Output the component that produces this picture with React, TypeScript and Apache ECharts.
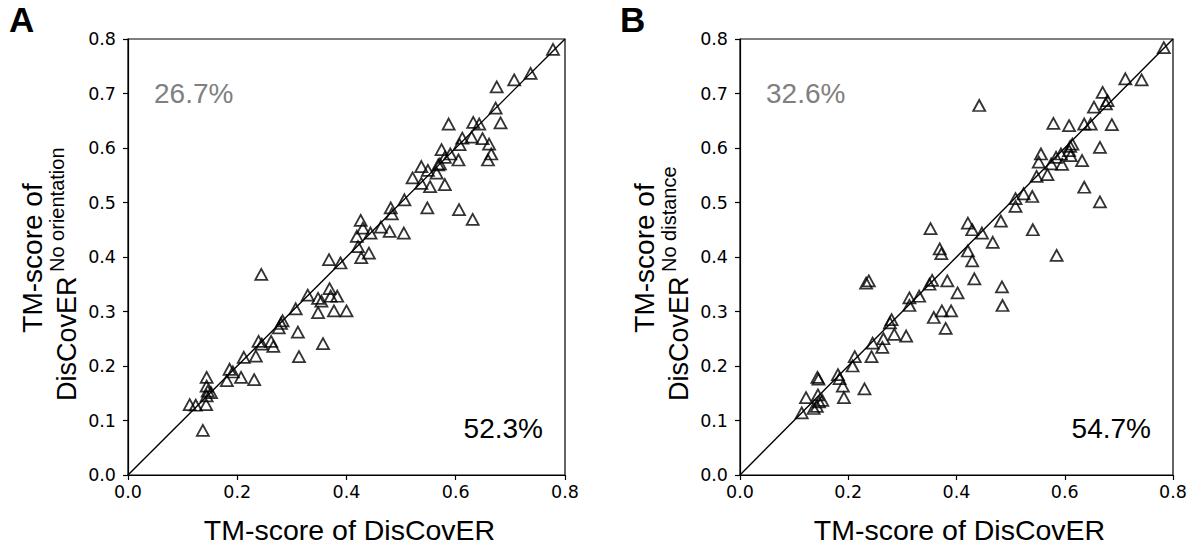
import React, { useEffect, useRef } from "react";
import * as echarts from "echarts";

// Panel A: DisCovER vs DisCovER (no orientation)
const aX = [
  0.244, 0.329, 0.348, 0.369, 0.371, 0.383, 0.354, 0.348, 0.377, 0.4, 0.307, 0.283, 0.28, 0.276, 0.311,
  0.357, 0.313, 0.239, 0.245, 0.262, 0.266, 0.234, 0.212, 0.186, 0.192, 0.181, 0.207, 0.231, 0.144, 0.144,
  0.146, 0.152, 0.144, 0.113, 0.124, 0.143, 0.137, 0.389, 0.368,
  0.537, 0.549, 0.565, 0.521, 0.537, 0.553, 0.58, 0.571, 0.506, 0.481, 0.483, 0.548, 0.606, 0.631, 0.426,
  0.43, 0.444, 0.463, 0.479, 0.505, 0.419, 0.421, 0.427, 0.441,
  0.778, 0.737, 0.707, 0.675, 0.673, 0.632, 0.643, 0.682, 0.587, 0.629, 0.612, 0.607, 0.649, 0.661, 0.665,
  0.659, 0.59, 0.605, 0.574, 0.58, 0.568,
];
const aY = [
  0.368, 0.33, 0.324, 0.342, 0.328, 0.328, 0.319, 0.298, 0.301, 0.301, 0.305, 0.283, 0.278, 0.27, 0.262,
  0.241, 0.217, 0.245, 0.24, 0.245, 0.236, 0.218, 0.216, 0.194, 0.189, 0.173, 0.179, 0.175, 0.179, 0.163,
  0.154, 0.151, 0.145, 0.129, 0.128, 0.129, 0.082, 0.389, 0.395,
  0.566, 0.559, 0.554, 0.545, 0.535, 0.529, 0.533, 0.571, 0.505, 0.49, 0.479, 0.49, 0.487, 0.469, 0.467,
  0.453, 0.444, 0.455, 0.447, 0.444, 0.438, 0.419, 0.399, 0.407,
  0.781, 0.737, 0.725, 0.712, 0.673, 0.647, 0.644, 0.646, 0.644, 0.62, 0.618, 0.606, 0.617, 0.607, 0.589,
  0.578, 0.589, 0.578, 0.597, 0.583, 0.569,
];

// Panel B: DisCovER vs DisCovER (no distance)
const bX = [
  0.233, 0.238, 0.355, 0.35, 0.383, 0.402, 0.313, 0.331, 0.313, 0.358, 0.373, 0.39, 0.38, 0.28, 0.277,
  0.285, 0.307, 0.265, 0.245, 0.263, 0.243, 0.212, 0.208, 0.181, 0.184, 0.19, 0.192, 0.23, 0.122, 0.144,
  0.143, 0.145, 0.146, 0.152, 0.136, 0.114, 0.142,
  0.552, 0.575, 0.595, 0.548, 0.568, 0.636, 0.665, 0.509, 0.509, 0.524, 0.54, 0.482, 0.421, 0.429, 0.447,
  0.467, 0.541, 0.585, 0.421, 0.429, 0.369, 0.372, 0.433, 0.484, 0.485,
  0.783, 0.712, 0.742, 0.67, 0.679, 0.676, 0.654, 0.579, 0.608, 0.636, 0.648, 0.687, 0.614, 0.61, 0.608,
  0.611, 0.665, 0.593, 0.584, 0.632, 0.556,
  0.442, 0.352,
];
const bY = [
  0.352, 0.356, 0.357, 0.35, 0.356, 0.334, 0.325, 0.328, 0.311, 0.289, 0.301, 0.301, 0.269, 0.285, 0.279,
  0.258, 0.255, 0.25, 0.242, 0.234, 0.217, 0.217, 0.2, 0.184, 0.177, 0.163, 0.142, 0.158, 0.142, 0.147,
  0.179, 0.176, 0.134, 0.137, 0.122, 0.114, 0.126,
  0.574, 0.571, 0.57, 0.548, 0.551, 0.528, 0.501, 0.507, 0.493, 0.516, 0.511, 0.466, 0.462, 0.45, 0.444,
  0.427, 0.45, 0.403, 0.411, 0.393, 0.415, 0.406, 0.36, 0.345, 0.311,
  0.784, 0.727, 0.725, 0.702, 0.687, 0.681, 0.675, 0.645, 0.641, 0.644, 0.644, 0.643, 0.607, 0.603, 0.595,
  0.586, 0.601, 0.589, 0.583, 0.577, 0.589,
  0.678, 0.452,
];

const diagonal = [0, 0.8];
const panelLetters = ["A", "B"];
const xTitle = "TM-score of DisCovER";
const yTitleTop = "TM-score of";
const yTitleBase = "DisCovER";
const yTitleSup = ["No orientation", "No distance"];
const pctUpper = ["26.7%", "32.6%"];
const pctLower = ["52.3%", "54.7%"];

const SANS = "'Liberation Sans', Arial, Helvetica, sans-serif";
const TICKFONT = "'DejaVu Sans', sans-serif";

function zip(xs: number[], ys: number[]) {
  return xs.map((x, i) => [x, ys[i]]);
}

export default function App() {
  const ref = useRef<HTMLDivElement>(null);
  useEffect(() => {
    if (!ref.current) return;
    const chart = echarts.init(ref.current, null, { renderer: "svg" });
    const grids = [
      { left: 128, top: 39, width: 437, height: 436 },
      { left: 740, top: 39, width: 433, height: 436 },
    ];
    const axisCommon = {
      type: "value",
      min: 0,
      max: 0.8,
      axisLine: { show: true, onZero: false, lineStyle: { color: "#000", width: 1.2 } },
      axisTick: { show: true, length: 5, lineStyle: { color: "#000", width: 1.2 } },
      splitLine: { show: false },
    };
    const xAxes = grids.map((_, i) => ({
      ...axisCommon,
      gridIndex: i,
      interval: 0.2,
      axisLabel: {
        color: "#000",
        fontFamily: TICKFONT,
        fontSize: 17.5,
        margin: 8,
        formatter: (v: number) => v.toFixed(1),
      },
    }));
    const yAxes = grids.map((_, i) => ({
      ...axisCommon,
      gridIndex: i,
      interval: 0.1,
      axisLabel: {
        color: "#000",
        fontFamily: TICKFONT,
        fontSize: 17.5,
        margin: 12,
        formatter: (v: number) => v.toFixed(1),
      },
    }));
    const datasets = [zip(aX, aY), zip(bX, bY)];
    const series: any[] = [];
    datasets.forEach((d, i) => {
      series.push({
        type: "line",
        xAxisIndex: i,
        yAxisIndex: i,
        data: [[diagonal[0], diagonal[0]], [diagonal[1], diagonal[1]]],
        showSymbol: false,
        symbol: "none",
        silent: true,
        lineStyle: { color: "#000", width: 1.4 },
        z: 1,
      });
      series.push({
        type: "scatter",
        xAxisIndex: i,
        yAxisIndex: i,
        data: d,
        symbol: "triangle",
        symbolSize: [12, 11],
        itemStyle: { color: "rgba(0,0,0,0)", borderColor: "#000", borderWidth: 1.8 },
        z: 2,
      });
    });

    const graphic: any[] = [];
    const letterX = [9, 620];
    const yTopX = [32, 644];
    const yBaseX = [67, 679];
    const ySupX = [57, 669];
    grids.forEach((g, i) => {
      graphic.push({
        type: "text",
        x: letterX[i],
        y: 19,
        style: { text: panelLetters[i], font: `bold 35px ${SANS}`, fill: "#000", align: "left", verticalAlign: "middle" },
      });
      graphic.push({
        type: "text",
        x: g.left + g.width / 2 + 3,
        y: 530,
        style: { text: xTitle, font: `28.5px ${SANS}`, fill: "#000", align: "center", verticalAlign: "middle" },
      });
      graphic.push({
        type: "text",
        x: yTopX[i],
        y: 258,
        rotation: Math.PI / 2,
        style: { text: yTitleTop, font: `28px ${SANS}`, fill: "#000", align: "center", verticalAlign: "middle" },
      });
      graphic.push({
        type: "text",
        x: yBaseX[i],
        y: 401,
        rotation: Math.PI / 2,
        style: { text: yTitleBase, font: `27px ${SANS}`, fill: "#000", align: "left", verticalAlign: "middle" },
      });
      graphic.push({
        type: "text",
        x: ySupX[i],
        y: 272,
        rotation: Math.PI / 2,
        style: { text: yTitleSup[i], font: `20px ${SANS}`, fill: "#000", align: "left", verticalAlign: "middle" },
      });
      graphic.push({
        type: "text",
        x: g.left + 26,
        y: 93,
        style: { text: pctUpper[i], font: `28px ${SANS}`, fill: "#808080", align: "left", verticalAlign: "middle" },
      });
      graphic.push({
        type: "text",
        x: g.left + g.width - 22,
        y: 428,
        style: { text: pctLower[i], font: `28px ${SANS}`, fill: "#000", align: "right", verticalAlign: "middle" },
      });
    });

    chart.setOption({
      animation: false,
      backgroundColor: "#fff",
      grid: grids.map((g) => ({ ...g, show: true, borderColor: "#000", borderWidth: 1.2, backgroundColor: "transparent" })),
      xAxis: xAxes,
      yAxis: yAxes,
      series,
      graphic,
    });
    return () => chart.dispose();
  }, []);
  return (
    <div
      ref={ref}
      style={{ position: "fixed", left: 0, top: 0, width: 1201, height: 553, background: "#fff" }}
    />
  );
}
